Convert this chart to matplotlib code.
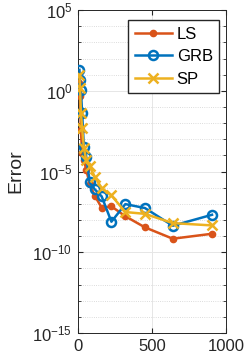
import numpy as np
import matplotlib
matplotlib.use("Agg")
import matplotlib.pyplot as plt
from matplotlib.ticker import FixedLocator, NullFormatter

plt.rcParams['font.family'] = ['Liberation Sans', 'DejaVu Sans']

# problem size (shared by all three methods)
n = [10, 14, 20, 28, 40, 56, 80, 113, 160, 226, 320, 452, 640, 905]

err_ls = [3.0, 0.45, 3.9e-3, 1.4e-4, 5.4e-5, 1.3e-5, 1.6e-6, 3.2e-7,
          5.9e-8, 7e-8, 1.7e-8, 3.5e-9, 6.9e-10, 1.4e-9]
err_grb = [20, 4.8, 1.15, 0.045, 3.5e-4, 8e-5, 2.1e-6, 8e-7,
           2.9e-7, 7.8e-9, 9.6e-8, 5.5e-8, 4.4e-9, 2.1e-8]
err_sp = [9.8, 1.5, 0.044, 5.1e-3, 2.8e-4, 5.4e-5, 2.1e-5, 4.9e-6,
          9.5e-7, 3.3e-7, 3.1e-8, 2.4e-8, 6.4e-9, 4.6e-9]

fig = plt.figure(figsize=(2.49, 3.61), dpi=100)
ax = fig.add_axes([0.313, 0.0776, 0.595, 0.8944])

ax.semilogy(n, err_ls, '-o', color='#D95319', lw=1.8, ms=4.5,
            mfc='#D95319', label='LS', zorder=3)
ax.semilogy(n, err_grb, '-o', color='#0072BD', lw=1.8, ms=6.5,
            mfc='none', mew=1.8, label='GRB', zorder=4)
ax.semilogy(n, err_sp, '-x', color='#EDB120', lw=1.8, ms=6.5,
            mew=1.8, label='SP', zorder=5)

ax.set_xlim(0, 1000)
ax.set_ylim(1e-15, 1e5)
ax.set_xticks([0, 500, 1000])
ax.set_yticks([1e-15, 1e-10, 1e-5, 1e0, 1e5])
ax.set_yticklabels([r'$\mathregular{10^{-15}}$', r'$\mathregular{10^{-10}}$',
                    r'$\mathregular{10^{-5}}$', r'$\mathregular{10^{0}}$',
                    r'$\mathregular{10^{5}}$'])
ax.yaxis.set_minor_locator(FixedLocator(10.0 ** np.arange(-15, 6)))
ax.yaxis.set_minor_formatter(NullFormatter())

ax.grid(True, which='major', color='#e6e6e6', lw=0.7)
ax.grid(True, which='minor', axis='y', color='#d0d0d0', lw=0.6, ls=':')
ax.tick_params(which='both', direction='in', labelsize=12, color='#262626',
               labelcolor='#262626', top=True, right=True, pad=4)
ax.tick_params(which='minor', length=2)
for s in ax.spines.values():
    s.set_color('#262626')
    s.set_linewidth(0.7)

ax.set_ylabel('Error', fontsize=14, color='#262626', labelpad=6)
ax.legend(loc='upper right', fontsize=12, fancybox=False, edgecolor='#262626',
          framealpha=1, handlelength=2.2, borderpad=0.4, labelspacing=0.45,
          handletextpad=0.3, borderaxespad=0, bbox_to_anchor=(0.955, 0.969))

fig.savefig('out.png', dpi=100)
